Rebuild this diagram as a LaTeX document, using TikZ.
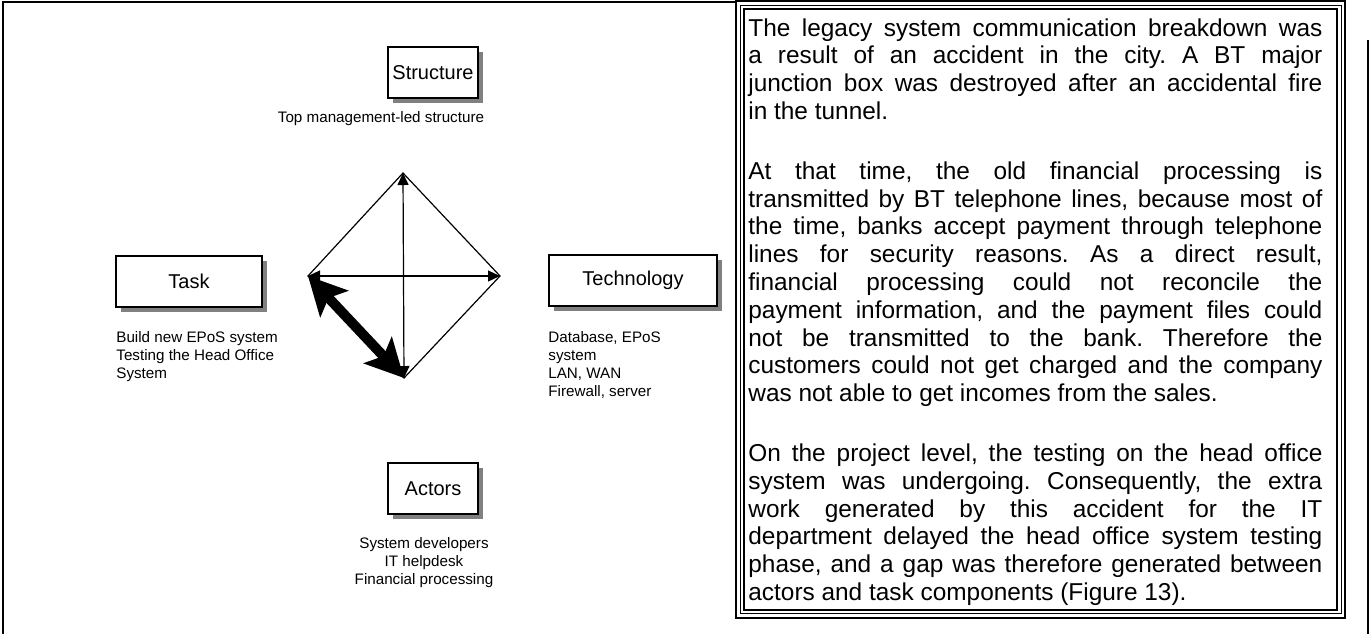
\documentclass[tikz,border=0pt]{standalone}
\usepackage{fontspec}
\setmainfont{Liberation Sans}
\usetikzlibrary{arrows.meta,shadows}

\begin{document}
\begin{tikzpicture}[x=0.5pt,y=-0.5pt,
    comp/.style={draw,line width=0.8pt,fill=white,minimum height=25.5pt,inner sep=0pt,
      font=\fontsize{10}{12}\selectfont,
      drop shadow={shadow xshift=2.5pt,shadow yshift=-2.5pt,fill=black!50,opacity=1}},
    note/.style={inner sep=0pt,font=\fontsize{7.6}{9}\selectfont},
    thin/.style={line width=0.6pt,{Triangle[length=6pt,width=5.5pt]}-{Triangle[length=6pt,width=5.5pt]}},
    gap/.style={line width=5pt,{Stealth[length=19pt,width=19pt,inset=4pt]}-{Stealth[length=19pt,width=19pt,inset=4pt]}}]
  \useasboundingbox (0,0) rectangle (1372,634);

  % outer frame
  \draw[line width=1pt] (737,2) -- (3,2) -- (3,634);
  \draw[line width=1pt] (1368,40) -- (1368,634);

  % the four components
  \node (s) at (433,72.5) [comp,minimum width=45pt] {Structure};
  \node (ta) at (189,281.5) [comp,minimum width=73pt] {Task};
  \node (te) at (633,280.5) [comp,minimum width=84pt] {Technology};
  \node (ac) at (433,488.5) [comp,minimum width=45pt] {Actors};

  \node (sn) at (381,119) [note] {Top management-led structure};
  \node (tan) at (116,331) [note,anchor=north west,align=left] {Build new EPoS system\\Testing the Head Office\\System};
  \node (ten) at (548,331) [note,anchor=north west,align=left] {Database, EPoS\\system\\LAN, WAN\\Firewall, server};
  \node (acn) at (424,537) [note,anchor=north,align=center] {System developers\\IT helpdesk\\Financial processing};

  % diamond
  \coordinate (t) at (403,173);
  \coordinate (l) at (308,276);
  \coordinate (r) at (500,276);
  \coordinate (b) at (404,378);
  \draw[line width=0.6pt] (t) -- (r) -- (b) -- (l) -- cycle;
  \draw[thin] (b) -- (t);
  \draw[thin] (l) -- (r);
  \draw[gap] (l) -- (b);

  % text box
  \draw[line width=1pt] (736,1) rectangle (1345,618);
  \draw[line width=0.4pt] (740.5,5) rectangle (1341,613.5);
  \draw[line width=1pt] (744,9) rectangle (1337,610);
  \node (txt) at (748,18) [anchor=north west,inner sep=0pt,text width=287pt,align=justify,
    font=\fontsize{12.2}{13.9}\selectfont] {\parindent=0pt\tolerance=10000\hyphenpenalty=10000\frenchspacing
    The legacy system communication breakdown was\linebreak
    a result of an accident in the city. A BT major\linebreak
    junction box was destroyed after an accidental fire\linebreak
    in the tunnel.\par\vspace{16pt}
    At that time, the old financial processing is\linebreak
    transmitted by BT telephone lines, because most of\linebreak
    the time, banks accept payment through telephone\linebreak
    lines for security reasons. As a direct result,\linebreak
    financial processing could not reconcile the\linebreak
    payment information, and the payment files could\linebreak
    not be transmitted to the bank. Therefore the\linebreak
    customers could not get charged and the company\linebreak
    was not able to get incomes from the sales.\par\vspace{16pt}
    On the project level, the testing on the head office\linebreak
    system was undergoing. Consequently, the extra\linebreak
    work generated by this accident for the IT\linebreak
    department delayed the head office system testing\linebreak
    phase, and a gap was therefore generated between\linebreak
    actors and task components (Figure 13).};
\end{tikzpicture}
\end{document}
